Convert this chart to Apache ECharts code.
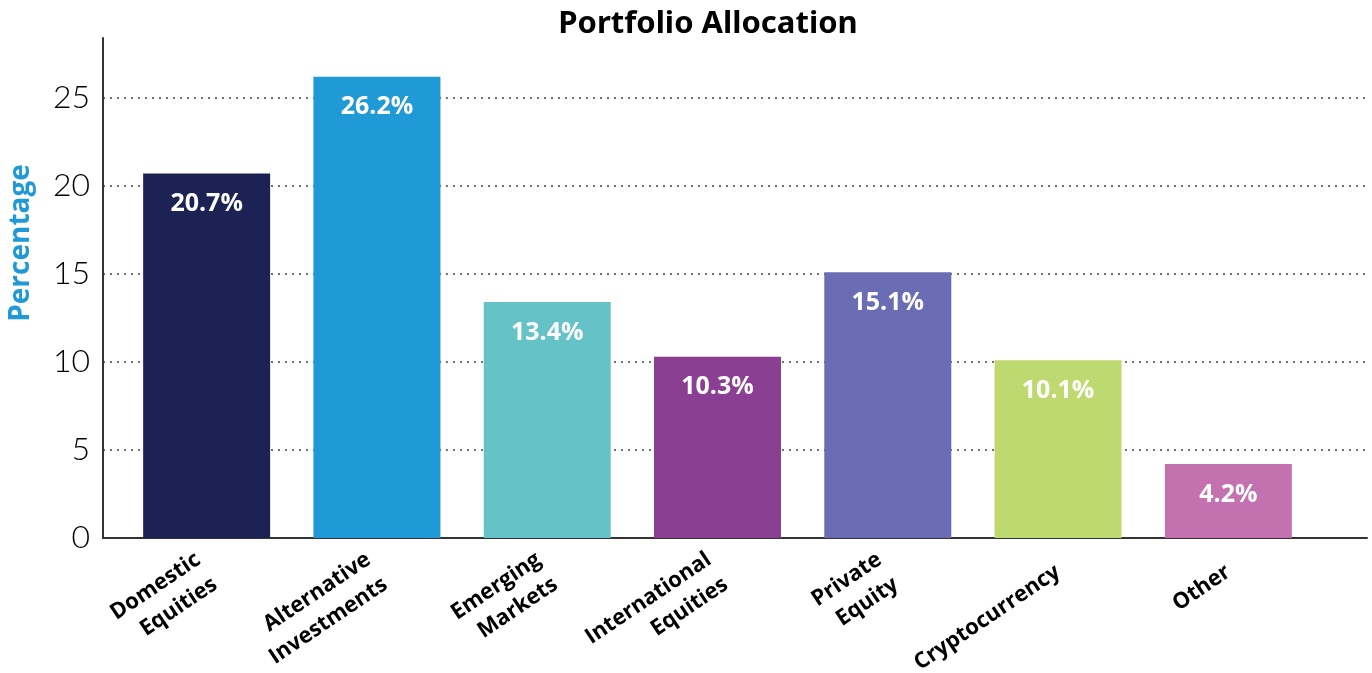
<!DOCTYPE html>
<html>
<head>
<meta charset="utf-8">
<script src="https://cdn.jsdelivr.net/npm/echarts@6/dist/echarts.min.js"></script>
<style>
  html, body { margin: 0; padding: 0; background: #fff; }
  #chart { width: 1372px; height: 673px; }
</style>
</head>
<body>
<div id="chart"></div>
<script>
const categories = [
    "Domestic\nEquities",
    "Alternative\nInvestments",
    "Emerging\nMarkets",
    "International\nEquities",
    "Private\nEquity",
    "Cryptocurrency",
    "Other",
];
const allocation = [20.7, 26.2, 13.4, 10.3, 15.1, 10.1, 4.2];
const barColors = ["#1c2354", "#209ad6", "#65c3c8", "#8b3f93", "#6a6db3", "#bfd971", "#c372af"];

const chart = echarts.init(document.getElementById("chart"), null, { width: 1372, height: 673 });

const yMax = 28.4;

const options = {
    animation: false,
    title: {
        text: "Portfolio Allocation",
        left: 703,
        top: 4,
        textAlign: "center",
        textStyle: { fontFamily: "Noto Sans", fontWeight: "bold", fontSize: 31, color: "#000" },
    },
    grid: [
        // outer grid: axis lines + dotted gridlines
        { left: 103, right: 5, top: 38, bottom: 135, outerBoundsMode: "none" },
        // inner grid: bars and category labels
        { left: 121.5, right: 58.5, top: 38, bottom: 135, outerBoundsMode: "none" },
    ],
    xAxis: [
        {
            gridIndex: 0,
            type: "value",
            min: 0,
            max: 1,
            axisLine: { show: true, onZero: false, lineStyle: { color: "#333", width: 2 } },
            axisTick: { show: false },
            axisLabel: { show: false },
            splitLine: { show: false },
        },
        {
            gridIndex: 1,
            type: "category",
            data: categories,
            axisLine: { show: false },
            axisTick: { show: false },
            axisLabel: {
                rotate: 34,
                margin: 32,
                interval: 0,
                fontFamily: "Open Sans",
                fontWeight: "bold",
                fontSize: 22,
                lineHeight: 30,
                color: "#000",
            },
        },
    ],
    yAxis: [
        {
            gridIndex: 0,
            type: "value",
            min: 0,
            max: yMax,
            interval: 5,
            name: "Percentage",
            nameLocation: "middle",
            nameGap: 68,
            nameTextStyle: {
                fontFamily: "Open Sans",
                fontWeight: "bold",
                fontSize: 28,
                color: "#209ad6",
                padding: [0, 0, 0, 90],
            },
            axisLine: { show: true, lineStyle: { color: "#333", width: 2 } },
            axisTick: { show: false },
            axisLabel: {
                showMaxLabel: false,
                margin: 13,
                fontFamily: "Lato",
                fontWeight: 300,
                fontSize: 32,
                color: "#000",
            },
            splitLine: {
                show: true,
                showMinLine: false,
                showMaxLine: false,
                lineStyle: { type: [2, 5], color: "#444", width: 1.5 },
            },
        },
        {
            gridIndex: 1,
            type: "value",
            min: 0,
            max: yMax,
            show: false,
        },
    ],
    series: [
        {
            type: "bar",
            xAxisIndex: 1,
            yAxisIndex: 1,
            barWidth: 127,
            data: allocation.map((v, i) => ({ value: v, itemStyle: { color: barColors[i] } })),
            label: {
                show: true,
                position: "insideTop",
                distance: 18,
                formatter: (p) => p.value.toFixed(1) + "%",
                fontFamily: "Open Sans",
                fontWeight: "bold",
                fontSize: 25,
                color: "#fff",
            },
        },
    ],
};

chart.setOption(options);
</script>
</body>
</html>
